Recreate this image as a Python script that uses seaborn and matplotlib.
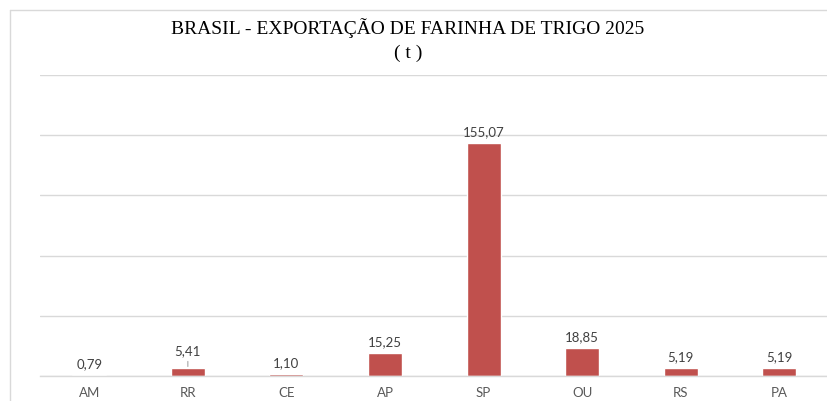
import matplotlib
matplotlib.use('Agg')
import matplotlib.pyplot as plt
import seaborn as sns
import pandas as pd
from matplotlib.lines import Line2D

estados = ["AM", "RR", "CE", "AP", "SP", "OU", "RS", "PA"]
toneladas = [0.79, 5.41, 1.10, 15.25, 155.07, 18.85, 5.19, 5.19]
rotulos = ["0,79", "5,41", "1,10", "15,25", "155,07", "18,85", "5,19", "5,19"]

df = pd.DataFrame({"estado": estados, "t": toneladas})

sns.set_theme(style="white")
plt.rcParams['font.family'] = ['Lato', 'DejaVu Sans']

fig = plt.figure(figsize=(8.28, 4.01), dpi=100)
ax = fig.add_axes([40 / 828, 25 / 401, 788.5 / 828, 301 / 401])

sns.barplot(data=df, x="estado", y="t", color="#C0504D", saturation=1,
            width=0.345, ax=ax)

ax.set_ylim(0, 200)
ax.set_yticks([0, 40, 80, 120, 160, 200])
ax.yaxis.grid(True, color="#D9D9D9", linewidth=1)
ax.set_axisbelow(True)
ax.tick_params(axis='y', left=False, labelleft=False)
ax.tick_params(axis='x', bottom=False, labelsize=9.5, labelcolor="#595959", pad=2)
ax.set_xlabel("")
ax.set_ylabel("")
for s in ["top", "right", "left"]:
    ax.spines[s].set_visible(False)
ax.spines["bottom"].set_color("#D9D9D9")
ax.spines["bottom"].set_linewidth(1)

for i, (v, lab) in enumerate(zip(toneladas, rotulos)):
    if estados[i] == "RR":
        ax.annotate(lab, xy=(i, v), xytext=(0, 8), textcoords="offset points",
                    ha="center", va="bottom", fontsize=9.5, color="#404040",
                    arrowprops=dict(arrowstyle="-", color="#A6A6A6", lw=0.8,
                                    shrinkA=1, shrinkB=1))
    else:
        ax.annotate(lab, xy=(i, v), xytext=(0, 3.5), textcoords="offset points",
                    ha="center", va="bottom", fontsize=9.5, color="#404040")

# chart frame (partially visible)
fig.add_artist(Line2D([10 / 828, 10 / 828], [0, 1 - 10 / 401],
                      transform=fig.transFigure, color="#D9D9D9", lw=1))
fig.add_artist(Line2D([10 / 828, 1], [1 - 10 / 401, 1 - 10 / 401],
                      transform=fig.transFigure, color="#D9D9D9", lw=1))

fig.text(408 / 828, 1 - 28 / 401, "BRASIL - EXPORTAÇÃO DE FARINHA DE TRIGO 2025",
         ha="center", va="center", fontsize=14, color="#000000",
         family=["Liberation Serif", "DejaVu Serif"])
fig.text(408 / 828, 1 - 53 / 401, "( t )",
         ha="center", va="center", fontsize=14, color="#000000",
         family=["Liberation Serif", "DejaVu Serif"])

fig.savefig("out.png", dpi=100, facecolor="white")
